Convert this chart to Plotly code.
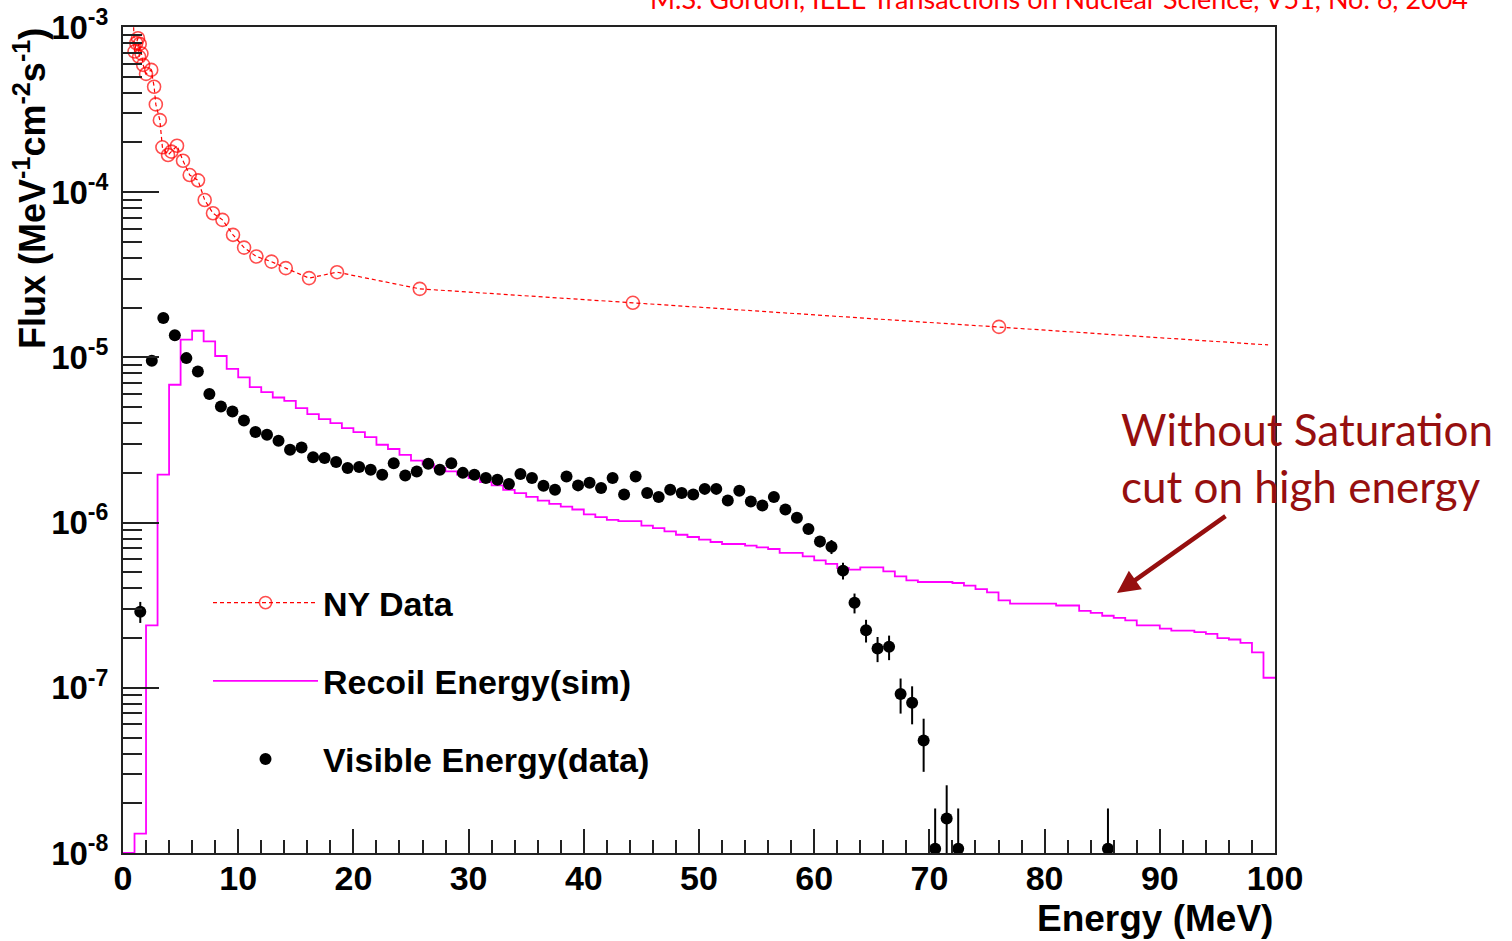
import plotly.graph_objects as go

# ---------------- data ----------------
# NY Data (M.S. Gordon) : energy [MeV], flux ; marker flag 1 = circle drawn, 0 = line only
ny_energy = [0.9, 1.0, 1.15, 1.3, 1.4, 1.45, 1.6, 1.75, 2.0, 2.45, 2.7, 2.85, 3.2, 3.42, 3.91, 4.2,
             4.69, 5.21, 5.79, 6.51, 7.09, 7.81, 8.63, 9.55, 10.51, 11.58, 12.89, 14.13, 16.15,
             18.58, 25.76, 44.26, 76.04, 99.4]
ny_flux = [1.10e-3, 7.1e-4, 8.0e-4, 8.55e-4, 6.6e-4, 7.9e-4, 6.9e-4, 5.9e-4, 5.2e-4, 5.5e-4,
           4.35e-4, 3.4e-4, 2.73e-4, 1.87e-4, 1.68e-4, 1.76e-4, 1.91e-4, 1.55e-4, 1.27e-4,
           1.18e-4, 8.97e-5, 7.46e-5, 6.80e-5, 5.52e-5, 4.62e-5, 4.08e-5, 3.80e-5, 3.47e-5,
           3.02e-5, 3.28e-5, 2.60e-5, 2.14e-5, 1.53e-5, 1.19e-5]
ny_marker = [0, 1, 1, 1, 1, 1, 1, 1, 1, 1, 1, 1, 1, 1, 1, 1, 1, 1, 1, 1, 1, 1, 1, 1, 1, 1, 1, 1,
             1, 1, 1, 1, 1, 0]

# Visible Energy (data) : bin centres [MeV], flux, error
vis_energy = [1.5, 2.5, 3.5, 4.5, 5.5, 6.5, 7.5, 8.5, 9.5, 10.5, 11.5, 12.5, 13.5, 14.5, 15.5,
              16.5, 17.5, 18.5, 19.5, 20.5, 21.5, 22.5, 23.5, 24.5, 25.5, 26.5, 27.5, 28.5,
              29.5, 30.5, 31.5, 32.5, 33.5, 34.5, 35.5, 36.5, 37.5, 38.5, 39.5, 40.5, 41.5,
              42.5, 43.5, 44.5, 45.5, 46.5, 47.5, 48.5, 49.5, 50.5, 51.5, 52.5, 53.5, 54.5,
              55.5, 56.5, 57.5, 58.5, 59.5, 60.5, 61.5, 62.5, 63.5, 64.5, 65.5, 66.5, 67.5,
              68.5, 69.5, 70.5, 71.5, 72.5, 85.5]
vis_flux = [2.89e-7, 9.54e-6, 1.73e-5, 1.36e-5, 9.90e-6, 8.22e-6, 6.00e-6, 5.05e-6, 4.71e-6,
            4.15e-6, 3.53e-6, 3.40e-6, 3.13e-6, 2.76e-6, 2.85e-6, 2.49e-6, 2.46e-6, 2.33e-6,
            2.14e-6, 2.17e-6, 2.09e-6, 1.95e-6, 2.29e-6, 1.93e-6, 2.04e-6, 2.27e-6, 2.09e-6,
            2.29e-6, 2.00e-6, 1.95e-6, 1.86e-6, 1.82e-6, 1.71e-6, 1.97e-6, 1.86e-6, 1.67e-6,
            1.58e-6, 1.90e-6, 1.68e-6, 1.74e-6, 1.62e-6, 1.86e-6, 1.48e-6, 1.90e-6, 1.51e-6,
            1.43e-6, 1.58e-6, 1.51e-6, 1.48e-6, 1.60e-6, 1.60e-6, 1.36e-6, 1.56e-6, 1.34e-6,
            1.27e-6, 1.43e-6, 1.20e-6, 1.07e-6, 9.15e-7, 7.69e-7, 7.15e-7, 5.12e-7, 3.27e-7,
            2.23e-7, 1.73e-7, 1.77e-7, 9.18e-8, 8.11e-8, 4.80e-8, 1.06e-8, 1.62e-8, 1.06e-8,
            1.06e-8]
vis_err = [4.2e-8, 2e-7, 3e-7, 3e-7, 2.5e-7, 2.2e-7, 1.8e-7, 1.6e-7, 1.5e-7, 1.4e-7, 1.3e-7,
           1.2e-7, 1.2e-7, 1.1e-7, 1.1e-7, 1.0e-7, 1.0e-7, 1.0e-7, 9e-8, 9e-8, 9e-8, 9e-8, 9e-8,
           9e-8, 9e-8, 9e-8, 9e-8, 9e-8, 9e-8, 9e-8, 8e-8, 8e-8, 8e-8, 8e-8, 8e-8, 8e-8, 8e-8,
           8e-8, 8e-8, 8e-8, 8e-8, 8e-8, 7e-8, 8e-8, 7e-8, 7e-8, 7e-8, 7e-8, 7e-8, 7e-8, 7e-8,
           7e-8, 7e-8, 7e-8, 7e-8, 7e-8, 7e-8, 6e-8, 6e-8, 6e-8, 7e-8, 6e-8, 4.5e-8, 3.5e-8,
           3.0e-8, 3.0e-8, 2.2e-8, 2.1e-8, 1.7e-8, 0.8e-8, 0.95e-8, 0.8e-8, 0.8e-8]

# Recoil Energy (sim) : 1 MeV bins from 0 to 100 MeV
sim_edges = list(range(0, 101))
sim_flux = [0.0, 1.31e-8, 2.39e-7, 1.95e-6, 6.83e-6, 1.28e-5, 1.45e-5, 1.25e-5, 1.02e-5, 8.53e-6,
            7.56e-6, 6.61e-6, 6.17e-6, 5.72e-6, 5.46e-6, 4.93e-6, 4.54e-6, 4.23e-6, 4.00e-6,
            3.73e-6, 3.53e-6, 3.29e-6, 2.96e-6, 2.79e-6, 2.57e-6, 2.37e-6, 2.25e-6, 2.14e-6,
            2.04e-6, 1.95e-6, 1.86e-6, 1.76e-6, 1.68e-6, 1.58e-6, 1.51e-6, 1.43e-6, 1.36e-6,
            1.30e-6, 1.25e-6, 1.20e-6, 1.12e-6, 1.08e-6, 1.04e-6, 1.02e-6, 1.02e-6, 9.58e-7,
            9.27e-7, 8.85e-7, 8.44e-7, 8.18e-7, 7.88e-7, 7.63e-7, 7.42e-7, 7.42e-7, 7.25e-7,
            7.08e-7, 6.92e-7, 6.55e-7, 6.55e-7, 6.24e-7, 5.90e-7, 5.62e-7, 5.31e-7, 5.19e-7,
            5.36e-7, 5.36e-7, 5.07e-7, 4.72e-7, 4.47e-7, 4.37e-7, 4.37e-7, 4.37e-7, 4.31e-7,
            4.15e-7, 3.96e-7, 3.78e-7, 3.38e-7, 3.23e-7, 3.23e-7, 3.23e-7, 3.23e-7, 3.15e-7,
            3.15e-7, 2.92e-7, 2.84e-7, 2.73e-7, 2.65e-7, 2.56e-7, 2.39e-7, 2.39e-7, 2.28e-7,
            2.22e-7, 2.22e-7, 2.17e-7, 2.12e-7, 2.00e-7, 1.96e-7, 1.87e-7, 1.64e-7, 1.15e-7]

x_ticks = [0, 10, 20, 30, 40, 50, 60, 70, 80, 90, 100]
y_ticks = [1e-8, 1e-7, 1e-6, 1e-5, 1e-4, 1e-3]
y_ticklabels = ["10<sup>-8</sup>", "10<sup>-7</sup>", "10<sup>-6</sup>", "10<sup>-5</sup>",
                "10<sup>-4</sup>", "10<sup>-3</sup>"]

# ---------------- figure ----------------
W, H = 1512, 941
ML, MR, MT, MB = 123, 237, 27, 88
PW, PH = W - ML - MR, H - MT - MB


def px_x(p):
    return (p - ML) / PW


def px_y(p):
    return (H - MB - p) / PH


AXIS_FLOOR = 1e-8  # ROOT draws empty bins on the frame bottom
sim_plot = [v if v > 0 else AXIS_FLOOR for v in sim_flux]

FONT = "Liberation Sans, Arial, sans-serif"

fig = go.Figure()

fig.add_trace(go.Scatter(
    x=ny_energy, y=ny_flux, mode="lines+markers", name="NY Data",
    legendgroup="ny",
    line=dict(color="#ff0000", width=1.2, dash="4px,3px"),
    marker=dict(symbol="circle-open", size=[13 if m else 0 for m in ny_marker],
                color="#ff0000", line=dict(width=1.6, color="#ff0000")),
    cliponaxis=True,
))

fig.add_trace(go.Scatter(
    x=sim_edges, y=sim_plot + [sim_plot[-1]], mode="lines", name="Recoil Energy(sim)",
    legendgroup="sim",
    line=dict(color="#ff00ff", width=1.8, shape="hv"),
))

fig.add_trace(go.Scatter(
    x=vis_energy, y=vis_flux, mode="markers", name="Visible Energy(data)",
    legendgroup="vis",
    marker=dict(symbol="circle", size=12, color="black"),
    error_y=dict(type="data", array=vis_err, visible=True, color="black",
                 thickness=2, width=0),
    cliponaxis=True,
))

fig.update_xaxes(
    range=[0, 100], tickvals=x_ticks, ticktext=[str(v) for v in x_ticks],
    ticks="inside", ticklen=24, tickwidth=2, tickcolor="#222",
    minor=dict(dtick=2, ticks="inside", ticklen=13, tickwidth=2, tickcolor="#222",
               showgrid=False),
    showline=True, linecolor="#222", linewidth=2, mirror=True,
    showgrid=False, zeroline=False, ticklabelstandoff=-6,
    tickfont=dict(family=FONT, size=34, color="black", weight="bold"),
)
fig.update_yaxes(
    type="log", range=[-8, -3], tickvals=y_ticks, ticktext=y_ticklabels,
    ticks="inside", ticklen=36, tickwidth=2, tickcolor="#222",
    minor=dict(dtick="D1", ticks="inside", ticklen=19, tickwidth=2, tickcolor="#222",
               showgrid=False),
    showline=True, linecolor="#222", linewidth=2, mirror=True,
    showgrid=False, zeroline=False, ticklabelstandoff=6,
    tickfont=dict(family=FONT, size=33, color="black", weight="bold"),
)

fig.update_layout(
    width=W, height=H,
    margin=dict(l=ML, r=MR, t=MT, b=MB, autoexpand=False),
    paper_bgcolor="white", plot_bgcolor="white",
    showlegend=True,
    legend=dict(
        x=px_x(208), y=px_y(574), xanchor="left", yanchor="top",
        bgcolor="rgba(0,0,0,0)", borderwidth=0,
        font=dict(family=FONT, size=34, color="black", weight="bold"),
        tracegroupgap=31, itemwidth=105,
    ),
    annotations=[
        dict(text="Flux (MeV<sup>-1</sup>cm<sup>-2</sup>s<sup>-1</sup>)",
             xref="paper", yref="paper", x=px_x(30), y=px_y(189), textangle=-90,
             xanchor="center", yanchor="middle", showarrow=False,
             font=dict(family=FONT, size=36, color="black", weight="bold")),
        dict(text="Energy (MeV)", xref="paper", yref="paper", x=px_x(1275), y=px_y(918),
             xanchor="right", yanchor="middle", showarrow=False,
             font=dict(family=FONT, size=37, color="black", weight="bold")),
        dict(text="M.S. Gordon, IEEE Transactions on Nuclear Science, V51, No. 6, 2004",
             xref="paper", yref="paper", x=px_x(1470), y=px_y(17), xanchor="right",
             yanchor="bottom", showarrow=False,
             font=dict(family="Lato, sans-serif", size=27, color="#ff0000")),
        dict(text="Without Saturation<br>cut on high energy", xref="paper", yref="paper",
             x=px_x(1119), y=px_y(457), xanchor="left", yanchor="middle", align="left",
             showarrow=False,
             font=dict(family="Lato, sans-serif", size=44, color="#960f0f")),
        dict(text="", xref="paper", yref="paper", x=px_x(1117), y=px_y(593),
             ax=110, ay=-78, axref="pixel", ayref="pixel", showarrow=True,
             arrowhead=2, arrowsize=1, arrowwidth=4.5, arrowcolor="#960f0f"),
    ],
)

fig.write_html("out.html")
